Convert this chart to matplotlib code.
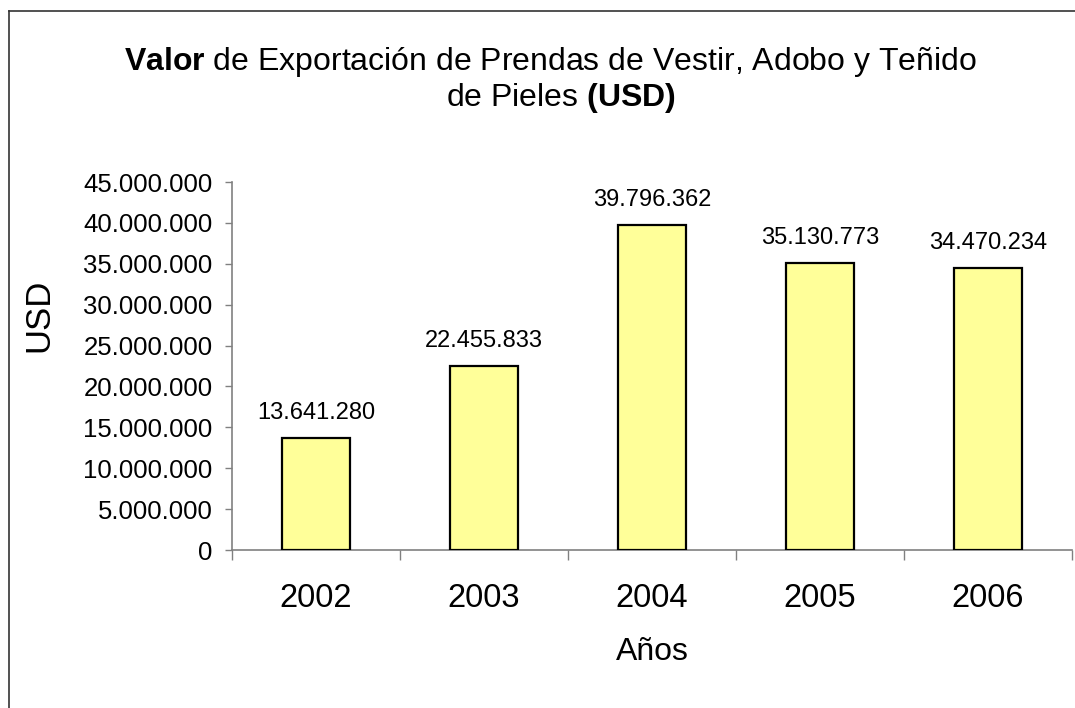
import matplotlib.pyplot as plt
from matplotlib.lines import Line2D
from matplotlib.ticker import FuncFormatter

plt.rcParams['font.family'] = ['Liberation Sans', 'DejaVu Sans']
plt.rcParams['mathtext.fontset'] = 'custom'
plt.rcParams['mathtext.rm'] = 'Liberation Sans'
plt.rcParams['mathtext.bf'] = 'Liberation Sans:bold'

years = ['2002', '2003', '2004', '2005', '2006']
values = [13641280, 22455833, 39796362, 35130773, 34470234]
y_ticks = list(range(0, 45000001, 5000000))


def miles(v, pos=None):
    return f'{int(v):,}'.replace(',', '.')


fig = plt.figure(figsize=(10.75, 7.08), dpi=100)
ax = fig.add_axes([232 / 1075, 1 - 550 / 708, (1072 - 232) / 1075, (550 - 182) / 708])

x = list(range(len(years)))
bars = ax.bar(x, values, width=0.4, color='#FFFF99', edgecolor='black', linewidth=1.6, zorder=3)

for b, v in zip(bars, values):
    ax.annotate(miles(v), (b.get_x() + b.get_width() / 2, v), xytext=(0, 18),
                textcoords='offset points', ha='center', va='center', fontsize=17)

ax.set_xlim(-0.5, len(years) - 0.5)
ax.set_ylim(0, 45000000)
ax.set_yticks(y_ticks)
ax.yaxis.set_major_formatter(FuncFormatter(miles))
ax.tick_params(axis='y', length=5, width=1, color='#808080', labelsize=18.5, pad=9)

ax.set_xticks(x)
ax.set_xticklabels(years)
ax.set_xticks([i - 0.5 for i in range(len(years) + 1)], minor=True)
ax.tick_params(axis='x', which='major', length=0, labelsize=23.5, pad=24)
ax.tick_params(axis='x', which='minor', length=7, width=1, color='#808080')

for s in ['top', 'right']:
    ax.spines[s].set_visible(False)
for s in ['left', 'bottom']:
    ax.spines[s].set_color('#808080')
    ax.spines[s].set_linewidth(1.2)

fig.text(550 / 1075, 1 - 62 / 708,
         r'$\bf{Valor}$ de Exportación de Prendas de Vestir, Adobo y Teñido',
         ha='center', va='center', fontsize=23)
fig.text(561 / 1075, 1 - 98 / 708, r'de Pieles $\bf{(USD)}$',
         ha='center', va='center', fontsize=23)
fig.text(652 / 1075, 1 - 652 / 708, 'Años', ha='center', va='center', fontsize=23)
fig.text(39 / 1075, 1 - 315 / 708, 'USD', ha='center', va='center', rotation=90, fontsize=25)

# chart frame
fig.add_artist(Line2D([8.5 / 1075, 8.5 / 1075], [0, 1 - 11 / 708], color='#333333', lw=1.2))
fig.add_artist(Line2D([8.5 / 1075, 1], [1 - 11 / 708, 1 - 11 / 708], color='#333333', lw=1.2))

fig.savefig('out.png', dpi=100)
